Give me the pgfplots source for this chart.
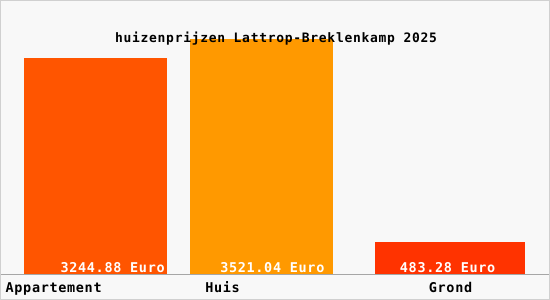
\documentclass[border=0pt]{standalone}
\usepackage{pgfplots}
\pgfplotsset{compat=1.18}
\usepackage{fontspec}
\setmainfont{DejaVu Sans Mono}[LetterSpace=5]
\newfontfamily\ttlfont{DejaVu Sans Mono}[LetterSpace=5.5]
\definecolor{bgc}{HTML}{F8F8F8}
\definecolor{brd}{HTML}{D0D0D0}
\definecolor{cA}{HTML}{FF5500}
\definecolor{cB}{HTML}{FF9900}
\definecolor{cC}{HTML}{FF3300}
\begin{document}
\begin{tikzpicture}
\fill[bgc] (0,-25bp) rectangle (550bp,275bp);
\begin{axis}[
  at={(0,0)}, anchor=south west,
  scale only axis, width=550bp, height=275bp,
  xmin=0, xmax=550, ymin=0, ymax=4111,
  axis line style={draw=none},
  ytick=\empty,
  xtick={5,205,429}, xticklabels={Appartement,Huis,Grond},
  major tick length=0pt,
  xticklabel style={anchor=base west, inner sep=0pt, yshift=-17.5bp, font=\fontsize{13.5bp}{15bp}\selectfont\bfseries},
  ybar, bar shift=0pt, clip=false,
]
\addplot[fill=cA, draw=none, bar width=143] coordinates {(95.5,3244.88)};
\addplot[fill=cB, draw=none, bar width=143] coordinates {(261.5,3521.04)};
\addplot[fill=cC, draw=none, bar width=150] coordinates {(450.5,483.28)};
\end{axis}
\draw[gray!70, line width=1bp] (0,0) -- (550bp,0);
\begin{scope}[every node/.style={anchor=base west, inner sep=0pt, text=white, font=\fontsize{13.5bp}{15bp}\selectfont\bfseries}]
\node at (60bp,2.5bp) {3244.88 Euro};
\node at (220bp,2.5bp) {3521.04 Euro};
\node at (400bp,2.5bp) {483.28 Euro};
\end{scope}
\node[anchor=base, inner sep=0pt, font=\ttlfont\fontsize{13bp}{15bp}\selectfont\bfseries] at (276bp,233bp) {huizenprijzen Lattrop-Breklenkamp 2025};
\draw[brd, line width=1bp] (0.5bp,-24.5bp) rectangle (549.5bp,274.5bp);
\end{tikzpicture}
\end{document}
